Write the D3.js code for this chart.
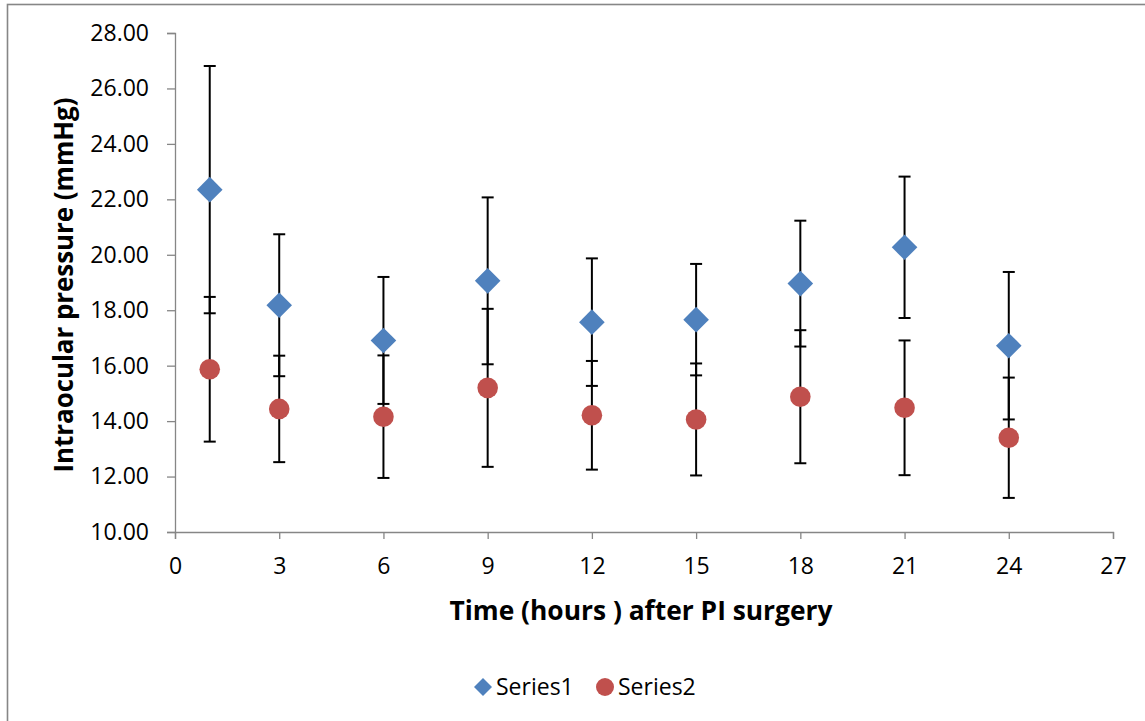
<!DOCTYPE html>
<html>
<head>
<meta charset="utf-8">
<script src="https://cdn.jsdelivr.net/npm/d3@7"></script>
<style>
    body { margin: 0; background: #fff; }
    .axis path, .axis line { stroke: #868686; stroke-width: 1.3; }
    .axis text { font-family: "Open Sans", sans-serif; font-size: 23px; fill: #000; }
    .title { font-family: "Open Sans", sans-serif; font-weight: bold; font-size: 26px; fill: #000; }
    .legend text { font-family: "Open Sans", sans-serif; font-size: 23px; fill: #000; }
</style>
</head>
<body>
<svg id="chart"></svg>
<script>
    // values
    let hours = [1, 3, 6, 9, 12, 15, 18, 21, 24];
    let series1Mean = [22.35, 18.18, 16.91, 19.06, 17.57, 17.66, 18.96, 20.27, 16.72];
    let series1Err  = [4.46, 2.56, 2.29, 3.01, 2.30, 2.01, 2.27, 2.55, 2.66];
    let series2Mean = [15.87, 14.44, 14.16, 15.20, 14.21, 14.06, 14.88, 14.48, 13.40];
    let series2Err  = [2.61, 1.92, 2.21, 2.85, 1.96, 2.02, 2.40, 2.43, 2.17];
    let xTicks = [0, 3, 6, 9, 12, 15, 18, 21, 24, 27];
    let yTicks = [10, 12, 14, 16, 18, 20, 22, 24, 26, 28];
    let seriesNames = ['Series1', 'Series2'];

    function getConfig(){
        let width = 1145;
        let height = 721;
        let margin = { top: 33, bottom: 189, left: 175, right: 32 };
        let bodyHeight = height - margin.top - margin.bottom;
        let bodyWidth = width - margin.left - margin.right;
        let container = d3.select('#chart')
            .attr('width', width)
            .attr('height', height);
        return { width, height, margin, bodyHeight, bodyWidth, container };
    }

    function getScales(config){
        let xScale = d3.scaleLinear()
            .domain([0, 27])
            .range([0, config.bodyWidth]);
        let yScale = d3.scaleLinear()
            .domain([10, 28])
            .range([config.bodyHeight, 0]);
        return { xScale, yScale };
    }

    function drawFrame(config){
        config.container.append('rect')
            .attr('x', 7.5).attr('y', 4.5)
            .attr('width', config.width).attr('height', config.height)
            .attr('fill', '#fff')
            .attr('stroke', '#868686')
            .attr('stroke-width', 1.6);
    }

    function drawAxes(scales, config){
        let { xScale, yScale } = scales;
        let { container, margin, bodyHeight } = config;

        let axisX = d3.axisBottom(xScale)
            .tickValues(xTicks)
            .tickSize(7)
            .tickPadding(19)
            .tickFormat(d3.format('d'));
        container.append('g')
            .attr('class', 'axis')
            .attr('transform', `translate(${margin.left},${margin.top + bodyHeight})`)
            .call(axisX);

        let axisY = d3.axisLeft(yScale)
            .tickValues(yTicks)
            .tickSize(8)
            .tickPadding(18)
            .tickFormat(d3.format('.2f'));
        container.append('g')
            .attr('class', 'axis')
            .attr('transform', `translate(${margin.left},${margin.top})`)
            .call(axisY);

        container.append('text')
            .attr('class', 'title')
            .attr('x', 641).attr('y', 620)
            .attr('text-anchor', 'middle')
            .attr('textLength', 383)
            .attr('lengthAdjust', 'spacingAndGlyphs')
            .text('Time (hours ) after PI surgery');

        container.append('text')
            .attr('class', 'title')
            .attr('transform', 'translate(73,285) rotate(-90)')
            .attr('text-anchor', 'middle')
            .attr('textLength', 375)
            .attr('lengthAdjust', 'spacingAndGlyphs')
            .text('Intraocular pressure (mmHg)');
    }

    function drawSeries(scales, config){
        let { xScale, yScale } = scales;
        let { container, margin } = config;
        let body = container.append('g')
            .attr('transform', `translate(${margin.left},${margin.top})`);

        let data = [
            hours.map((h, i) => ({ x: h, y: series1Mean[i], e: series1Err[i] })),
            hours.map((h, i) => ({ x: h, y: series2Mean[i], e: series2Err[i] }))
        ];
        let cap = 6;

        data.forEach((pts, s) => {
            let bars = body.append('g')
                .attr('stroke', '#000')
                .attr('stroke-width', 2);
            pts.forEach(d => {
                let x = xScale(d.x);
                let y0 = yScale(d.y - d.e), y1 = yScale(d.y + d.e);
                bars.append('line').attr('x1', x).attr('x2', x).attr('y1', y0).attr('y2', y1);
                bars.append('line').attr('x1', x - cap).attr('x2', x + cap).attr('y1', y0).attr('y2', y0);
                bars.append('line').attr('x1', x - cap).attr('x2', x + cap).attr('y1', y1).attr('y2', y1);
            });
        });

        body.selectAll('.s1')
            .data(data[0])
            .enter().append('path')
            .attr('d', d3.symbol(d3.symbolSquare, 328)())
            .attr('transform', d => `translate(${xScale(d.x)},${yScale(d.y)}) rotate(45)`)
            .attr('fill', '#4F81BD');

        body.selectAll('.s2')
            .data(data[1])
            .enter().append('circle')
            .attr('cx', d => xScale(d.x))
            .attr('cy', d => yScale(d.y))
            .attr('r', 10.3)
            .attr('fill', '#C0504D');
    }

    function drawLegend(config){
        let legend = config.container.append('g').attr('class', 'legend');
        legend.append('path')
            .attr('d', d3.symbol(d3.symbolSquare, 162)())
            .attr('transform', 'translate(483,687) rotate(45)')
            .attr('fill', '#4F81BD');
        legend.append('text').attr('x', 496).attr('y', 695).text(seriesNames[0]);
        legend.append('circle')
            .attr('cx', 605).attr('cy', 687).attr('r', 9)
            .attr('fill', '#C0504D');
        legend.append('text').attr('x', 618).attr('y', 695).text(seriesNames[1]);
    }

    let config = getConfig();
    let scales = getScales(config);
    drawFrame(config);
    drawAxes(scales, config);
    drawSeries(scales, config);
    drawLegend(config);
</script>
</body>
</html>
